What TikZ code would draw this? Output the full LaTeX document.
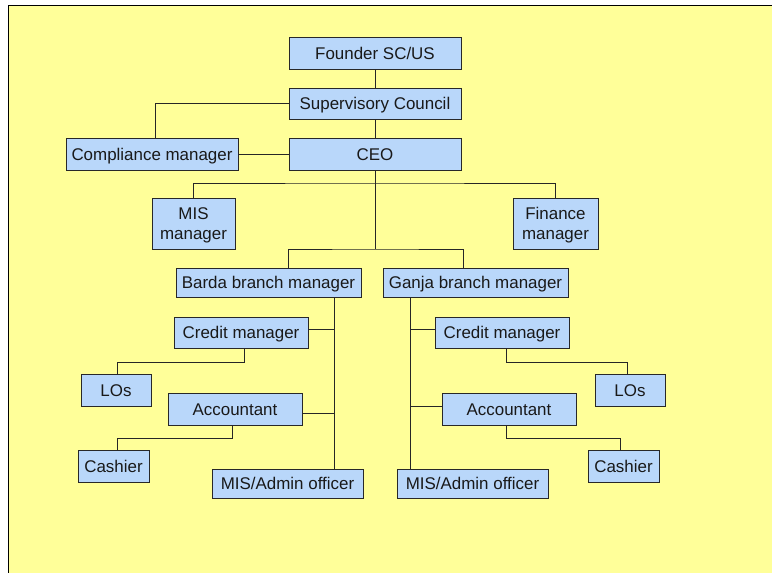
\documentclass[tikz,border=0pt]{standalone}
\usepackage{fontspec}
\setmainfont{Liberation Sans}
\definecolor{bgyellow}{RGB}{255,255,153}
\definecolor{boxblue}{RGB}{185,215,250}
\definecolor{boxline}{RGB}{40,40,40}
\begin{document}
\begin{tikzpicture}[x=1bp,y=-1bp,
  box/.style={draw=boxline, fill=boxblue, line width=0.9bp, inner sep=0pt, align=center,
    font=\fontsize{17}{19.5}\selectfont, text=black!90, text depth=0bp},
  one/.style={text height=12.2bp},
  link/.style={draw=black!85, line width=0.9bp}]
\useasboundingbox (0,0) rectangle (772,573);
\fill[bgyellow] (8,5) rectangle (772,573);
\draw[line width=0.9bp] (8,573) -- (8,5) -- (772,5);

\node[box, one, minimum width=172bp, minimum height=32bp] (founder) at (375,53) {Founder SC/US};
\node[box, one, minimum width=172bp, minimum height=31bp] (sup) at (375,103.5) {Supervisory Council};
\node[box, one, minimum width=172bp, minimum height=32bp] (ceo) at (375,154) {CEO};
\node[box, one, minimum width=172bp, minimum height=32bp] (comp) at (152,154) {Compliance manager};
\node[box, minimum width=83bp, minimum height=51bp] (mis) at (193.5,223.5) {MIS\\manager};
\node[box, minimum width=85bp, minimum height=51bp] (fin) at (555.5,223.5) {Finance\\manager};
\node[box, one, minimum width=185bp, minimum height=29bp] (barda) at (268.5,282.5) {Barda branch manager};
\node[box, one, minimum width=185bp, minimum height=29bp] (ganja) at (475.5,282.5) {Ganja branch manager};

\node[box, one, minimum width=134bp, minimum height=31bp] (bcred) at (241,332.5) {Credit manager};
\node[box, one, minimum width=70bp, minimum height=32bp] (blos) at (116,390) {LOs};
\node[box, one, minimum width=134bp, minimum height=32bp] (bacc) at (235,409) {Accountant};
\node[box, one, minimum width=71bp, minimum height=32bp] (bcash) at (113.5,466) {Cashier};
\node[box, one, minimum width=151bp, minimum height=29bp] (bmis) at (287.5,483.5) {MIS/Admin officer};

\node[box, one, minimum width=134bp, minimum height=31bp] (gcred) at (502,332.5) {Credit manager};
\node[box, one, minimum width=70bp, minimum height=32bp] (glos) at (630,390) {LOs};
\node[box, one, minimum width=134bp, minimum height=32bp] (gacc) at (509,409) {Accountant};
\node[box, one, minimum width=71bp, minimum height=32bp] (gcash) at (623.5,466) {Cashier};
\node[box, one, minimum width=151bp, minimum height=29bp] (gmis) at (472.5,483.5) {MIS/Admin officer};

\coordinate (j1) at (375,183);
\coordinate (j2) at (375,249);

\draw[link] (founder) -- (sup);
\draw[link] (sup) -- (ceo);
\draw[link] (sup.west) -| ([xshift=3bp]comp.north);
\draw[link] (comp) -- (ceo);
\draw[link] (ceo.south) -- (j2);
\draw[link] (mis.north) |- (j1) -| (fin.north);
\draw[link] ([xshift=19.5bp]barda.north) |- (j2) -| ([xshift=-12.5bp]ganja.north);

% Barda branch
\coordinate (bsp) at ([xshift=65.5bp]barda.south);
\draw[link] (bsp) -- (bsp |- bmis.north);
\draw[link] ([yshift=3.5bp]bcred.east) -- ([yshift=3.5bp]bcred.east -| bsp);
\draw[link] ([yshift=-4bp]bacc.east) -- ([yshift=-4bp]bacc.east -| bsp);
\draw[link] ([xshift=3bp]bcred.south) -- ++(0,14) -| ([xshift=1bp]blos.north);
\draw[link] ([xshift=-3bp]bacc.south) -- ++(0,13) -| ([xshift=3.5bp]bcash.north);

% Ganja branch
\coordinate (gsp) at ([xshift=-65.5bp]ganja.south);
\draw[link] (gsp) -- (gsp |- gmis.north);
\draw[link] ([yshift=3.5bp]gcred.west) -- ([yshift=3.5bp]gcred.west -| gsp);
\draw[link] ([yshift=3bp]gacc.west) -- ([yshift=3bp]gacc.west -| gsp);
\draw[link] ([xshift=4bp]gcred.south) -- ++(0,14) -| ([xshift=-3bp]glos.north);
\draw[link] ([xshift=-3bp]gacc.south) -- ++(0,13) -| ([xshift=-3.5bp]gcash.north);
\end{tikzpicture}
\end{document}
